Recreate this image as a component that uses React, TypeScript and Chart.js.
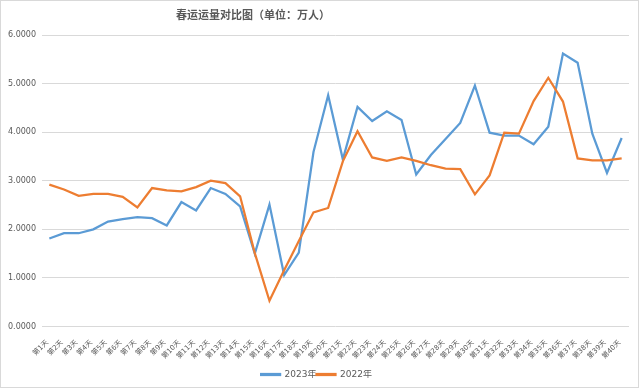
import React, { useEffect, useRef } from "react";
import { Chart, registerables } from "chart.js";

Chart.register(...registerables);

const TITLE = "春运运量对比图（单位：万人）";
const DAY_LABELS: string[] = Array.from({ length: 40 }, (_, i) => `第${i + 1}天`);
const SERIES_NAMES = ["2023年", "2022年"];
const Y_TICKS_MIN = 0;
const Y_TICKS_MAX = 6;
const Y_TICKS_STEP = 1;

const VALUES_2023 = [
  1.81, 1.92, 1.92, 2.0, 2.16, 2.21, 2.25, 2.23, 2.08, 2.56,
  2.39, 2.85, 2.73, 2.47, 1.5, 2.51, 1.06, 1.52, 3.59, 4.76,
  3.44, 4.52, 4.23, 4.43, 4.25, 3.13, 3.53, 3.86, 4.19, 4.96,
  3.99, 3.93, 3.93, 3.75, 4.11, 5.62, 5.43, 3.97, 3.16, 3.88,
];
const VALUES_2022 = [
  2.92, 2.82, 2.69, 2.73, 2.73, 2.67, 2.45, 2.85, 2.8, 2.78,
  2.87, 3.0, 2.95, 2.68, 1.51, 0.53, 1.16, 1.76, 2.35, 2.44,
  3.4, 4.02, 3.48, 3.41, 3.48, 3.41, 3.32, 3.25, 3.24, 2.72,
  3.11, 3.99, 3.97, 4.64, 5.12, 4.63, 3.46, 3.42, 3.42, 3.46,
];

const BLUE = "#5B9BD5";
const ORANGE = "#ED7D31";
const TEXT = "#595959";
const GRID = "#d9d9d9";

const framePlugin = {
  id: "frame",
  beforeDraw(chart: any) {
    const ctx = chart.ctx;
    ctx.save();
    ctx.fillStyle = "#ffffff";
    ctx.fillRect(0, 0, chart.width, chart.height);
    ctx.restore();
  },
  afterDraw(chart: any) {
    const ctx = chart.ctx;
    ctx.save();
    ctx.strokeStyle = GRID;
    ctx.lineWidth = 1;
    ctx.strokeRect(0.5, 0.5, 638, 387);
    ctx.fillStyle = TEXT;
    ctx.font = "bold 11px 'Noto Sans CJK SC', sans-serif";
    ctx.textAlign = "center";
    ctx.textBaseline = "middle";
    ctx.fillText(TITLE, 253, 15);
    ctx.restore();
  },
};

export default function App() {
  const ref = useRef<HTMLCanvasElement | null>(null);
  useEffect(() => {
    if (!ref.current) return;
    const chart = new Chart(ref.current, {
      type: "line",
      data: {
        labels: DAY_LABELS,
        datasets: [
          {
            label: SERIES_NAMES[0],
            data: VALUES_2023,
            borderColor: BLUE,
            backgroundColor: BLUE,
            borderWidth: 2.25,
            pointRadius: 0,
            tension: 0,
            order: 2,
          },
          {
            label: SERIES_NAMES[1],
            data: VALUES_2022,
            borderColor: ORANGE,
            backgroundColor: ORANGE,
            borderWidth: 2.25,
            pointRadius: 0,
            tension: 0,
            order: 1,
          },
        ],
      },
      options: {
        responsive: false,
        animation: false,
        layout: { padding: { left: 4, right: 11, top: 35, bottom: 0 } },
        font: { family: "'DejaVu Sans', 'Noto Sans CJK SC', sans-serif" } as any,
        plugins: {
          title: { display: false },
          tooltip: { enabled: false },
          legend: {
            position: "bottom",
            labels: {
              boxWidth: 19,
              boxHeight: 1,
              padding: 0,
              color: TEXT,
              font: { size: 9, family: "'DejaVu Sans', 'Noto Sans CJK SC', sans-serif" },
              sort: (a: any, b: any) => a.datasetIndex - b.datasetIndex,
            },
          },
        },
        scales: {
          x: {
            offset: true,
            grid: { display: false },
            border: { display: false },
            ticks: {
              autoSkip: false,
              maxRotation: 45,
              minRotation: 45,
              padding: 4,
              labelOffset: -2,
              color: TEXT,
              font: { size: 7, family: "'DejaVu Sans', 'Noto Sans CJK SC', sans-serif" },
            },
            afterFit: (scale: any) => {
              scale.height = 43.5;
            },
          },
          y: {
            min: Y_TICKS_MIN,
            max: Y_TICKS_MAX,
            grid: { color: GRID, lineWidth: 1, drawTicks: false },
            border: { display: false },
            ticks: {
              stepSize: Y_TICKS_STEP,
              padding: 6,
              color: TEXT,
              font: { size: 8, family: "'DejaVu Sans', sans-serif" },
              callback: (v: any) => Number(v).toFixed(4),
            },
            afterFit: (scale: any) => {
              scale.width = 38;
            },
          },
        },
      },
      plugins: [framePlugin],
    });
    return () => chart.destroy();
  }, []);
  return (
    <div style={{ position: "absolute", left: 0, top: 0, width: 640, height: 389, background: "#fff" }}>
      <canvas ref={ref} width={640} height={389} />
    </div>
  );
}
